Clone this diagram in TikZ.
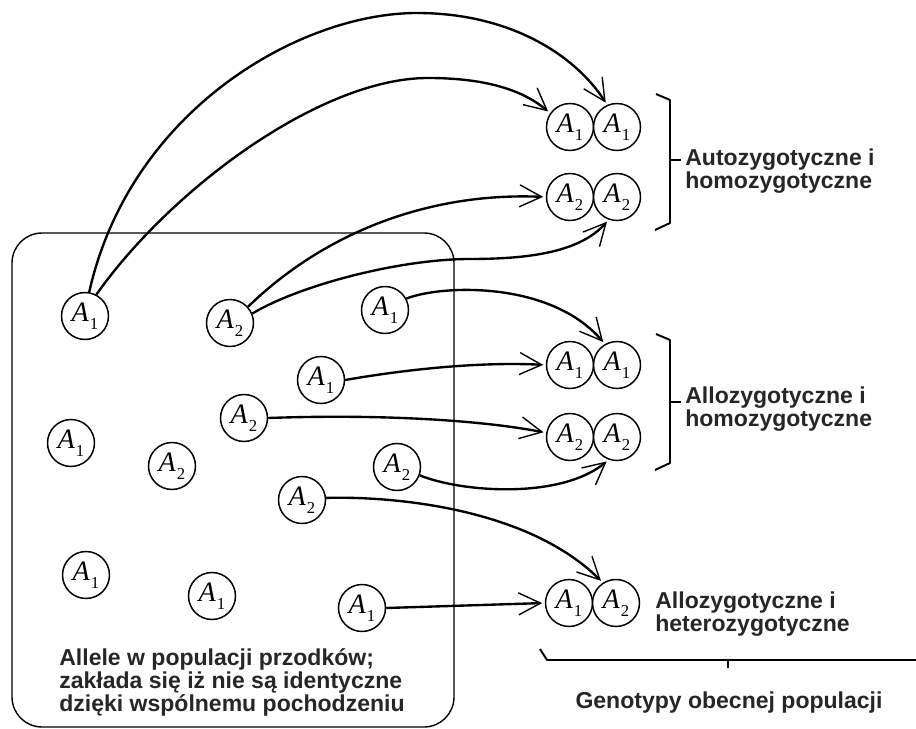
\documentclass[tikz,border=0pt]{standalone}
\usepackage{fontspec}
\setmainfont{Liberation Serif}
\newfontfamily\labelfont{Liberation Sans}
\usetikzlibrary{arrows.meta}

% allele symbol: italic A with a small numeral
\newcommand{\allele}[1]{\textit{A}\kern0.6pt\raisebox{-0.28em}{\fontsize{9.5}{9.5}\selectfont #1}}

\begin{document}
\begin{tikzpicture}[x=0.02cm,y=-0.02cm,
  allele/.style={circle,draw,line width=0.85pt,fill=white,minimum size=0.94cm,
    inner sep=0pt,font=\fontsize{16}{16}\selectfont},
  link/.style={line width=1.35pt,shorten >=1.5pt,
    -{Straight Barb[length=4.4mm,width=4.4mm,line width=0.8pt]}},
  caption/.style={inner sep=0pt,text=black!85,
    font=\labelfont\bfseries\fontsize{13.1}{13.1}\selectfont},
  bracket/.style={line width=1.1pt,line join=round}
]
\useasboundingbox (0,0) rectangle (916,729);

% ancestral population
\draw[line width=0.8pt,rounded corners=0.6cm] (12,233) rectangle (454,727);

\node[allele] (l1)  at (85,316)  {\allele{1}};
\node[allele] (l2)  at (230,323) {\allele{2}};
\node[allele] (l3)  at (385,310) {\allele{1}};
\node[allele] (l4)  at (321,380) {\allele{1}};
\node[allele] (l5)  at (244,418) {\allele{2}};
\node[allele] (l6)  at (71,443)  {\allele{1}};
\node[allele] (l7)  at (172,466) {\allele{2}};
\node[allele] (l8)  at (397,467) {\allele{2}};
\node[allele] (l9)  at (302,500) {\allele{2}};
\node[allele] (l10) at (86,575)  {\allele{1}};
\node[allele] (l11) at (212,596) {\allele{1}};
\node[allele] (l12) at (362,608) {\allele{1}};

\node[caption,anchor=base west] (t1) at (59,665) {Allele w populacji przodków;};
\node[caption,anchor=base west] (t2) at (59,688) {zakłada się iż nie są identyczne};
\node[caption,anchor=base west] (t3) at (59,711) {dzięki wspólnemu pochodzeniu};

% genotypes of the present population
\node[allele] (p1a) at (570,127) {\allele{1}};
\node[allele] (p1b) at (617,127) {\allele{1}};
\node[allele] (p2a) at (570,197) {\allele{2}};
\node[allele] (p2b) at (617,197) {\allele{2}};
\node[allele] (p3a) at (570,365) {\allele{1}};
\node[allele] (p3b) at (617,365) {\allele{1}};
\node[allele] (p4a) at (570,437) {\allele{2}};
\node[allele] (p4b) at (617,437) {\allele{2}};
\node[allele] (p5a) at (569,603) {\allele{1}};
\node[allele] (p5b) at (616,603) {\allele{2}};

% descent of alleles
\coordinate (top1) at (417,13);
\coordinate (top2) at (428,78);
\coordinate (mid4) at (470,259);
\draw[link] (l1.80) .. controls (130,110) and (300,13) .. (top1)
  .. controls (510,13) and (575,55) .. (p1b.114);
\draw[link] (l1.62) .. controls (170,190) and (320,78) .. (top2)
  .. controls (490,78) and (525,92) .. (p1a.145);
\draw[link] (l2.42) .. controls (325,232) and (430,192) .. (p2a.west);
\draw[link] (l2.23) .. controls (300,285) and (400,259) .. (mid4)
  .. controls (530,259) and (580,252) .. (p2b.250);
\draw[link] (l3.28) .. controls (440,285) and (550,280) .. (p3b.120);
\draw[link] (l4.east) .. controls (420,367) and (490,362) .. (p3a.west);
\draw[link] (l5.east) .. controls (380,414) and (480,420) .. (p4a.170);
\draw[link] (l8.-20) .. controls (460,492) and (560,500) .. (p4b.250);
\draw[link] (l9.5) .. controls (400,496) and (530,510) .. (p5b.123);
\draw[link] (l12.east) -- (p5a.west);

% groupings
\draw[bracket] (656,94) -- (670,100) -- (670,223) -- (655,230);
\draw[line width=0.8pt] (670,160) -- (681,160);
\node[caption,anchor=base west] (g1a) at (685,166) {Autozygotyczne i};
\node[caption,anchor=base west] (g1b) at (685,189) {homozygotyczne};

\draw[bracket] (656,334) -- (670,340) -- (670,463) -- (655,470);
\draw[line width=0.8pt] (670,402) -- (681,402);
\node[caption,anchor=base west] (g2a) at (685,403) {Allozygotyczne i};
\node[caption,anchor=base west] (g2b) at (685,426) {homozygotyczne};

\node[caption,anchor=base west] (g3a) at (655,608) {Allozygotyczne i};
\node[caption,anchor=base west] (g3b) at (655,631) {heterozygotyczne};

\draw[bracket] (540,649) -- (547,660) -- (916,660);
\draw[line width=0.8pt] (728,660) -- (728,668);
\node[caption,anchor=base] (g4) at (729,708) {Genotypy obecnej populacji};
\end{tikzpicture}
\end{document}
